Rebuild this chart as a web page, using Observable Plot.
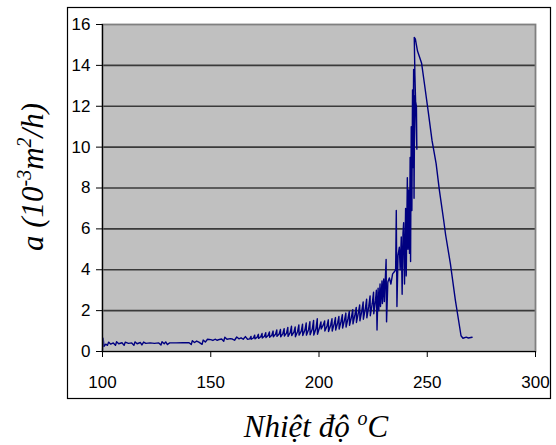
<!DOCTYPE html>
<html><head><meta charset="utf-8">
<script src="https://cdn.jsdelivr.net/npm/d3@7"></script>
<script src="https://cdn.jsdelivr.net/npm/@observablehq/plot@0.6"></script>
<style>body{margin:0;background:#fff}#chart{position:relative;width:556px;height:445px}</style>
</head><body><div id="chart"></div>
<script>
// Readings [temperature °C, a (10^-3 m^2/h)] in drawing order, split by phase
const lowRange = [
[100.0,0.00],[100.3,0.65],[100.7,0.25],[101.5,0.36],[102.3,0.30],[102.8,0.46],[103.8,0.36],[105.0,0.42],[106.0,0.30],[106.5,0.48],
[107.5,0.38],[109.0,0.43],[110.0,0.30],[110.5,0.46],[112.0,0.40],[113.5,0.42],[114.5,0.30],[115.0,0.47],[116.0,0.38],[117.5,0.44],
[118.2,0.32],[119.0,0.46],[120.0,0.40],[122.0,0.42],[124.0,0.40],[126.0,0.42],[127.0,0.32],[127.5,0.48],[128.5,0.38],[129.2,0.47],
[130.0,0.34],[131.0,0.42],[134.0,0.42],[137.0,0.43],[140.0,0.43],[141.0,0.34],[141.5,0.53],[142.5,0.44],[143.5,0.51],[144.5,0.46],
[146.0,0.35],[146.5,0.56],[147.5,0.46],[148.5,0.60],[150.0,0.58],[151.0,0.54],[152.0,0.60],[153.0,0.55],[154.0,0.59],[155.0,0.61],
[156.0,0.50],[156.5,0.70],[157.5,0.60],[159.0,0.63],[160.0,0.61],[161.0,0.55],[162.0,0.71],[163.0,0.62],[164.0,0.67],[165.0,0.60],
[166.0,0.73],[167.0,0.60]
];
const risingRange = [
[168.0,0.62],[168.6,0.74],[168.7,0.60],[169.7,0.66],[170.3,0.80],[170.4,0.62],[171.4,0.70],[172.0,0.84],[172.1,0.64],[173.1,0.72],
[173.7,0.88],[173.8,0.66],[174.8,0.75],[175.4,0.92],[175.5,0.68],[176.5,0.78],[177.1,0.96],[177.2,0.70],[178.2,0.80],[178.8,1.00],
[178.9,0.72],[179.9,0.84],[180.5,1.05],[180.6,0.74],[181.6,0.86],[182.2,1.08],[182.3,0.72],[183.3,0.88],[183.9,1.12],[184.0,0.76],
[185.0,0.90],[185.6,1.18],[185.7,0.74],[186.7,0.92],[187.3,1.24],[187.4,0.78],[188.4,0.95],[189.0,1.20],[189.1,0.72],[190.1,0.98],
[190.7,1.30],[190.8,0.80],[191.8,1.00],[192.4,1.34],[192.5,0.78],[193.5,1.05],[194.1,1.40],[194.2,0.80],[195.2,1.08],[195.8,1.46],
[195.9,0.82],[196.9,1.10],[197.5,1.52],[197.6,0.80],[198.6,1.12],[199.2,1.60],[199.3,0.84],[200.3,1.20],[200.9,1.45],[201.0,1.10],
[202.0,1.30],[202.6,1.50],[202.7,1.00],[203.7,1.25],[204.3,1.55],[204.4,0.98],[205.4,1.30],[206.0,1.60],[206.1,1.00],[207.0,1.35],
[207.6,1.66],[207.7,1.05],[208.6,1.40],[209.2,1.72],[209.3,1.10],[210.2,1.48],[210.8,1.80],[210.9,1.15],[211.8,1.55],[212.4,1.88],
[212.5,1.20],[213.4,1.62],[214.0,1.96],[214.1,1.28],[215.0,1.70],[215.6,2.05],[215.7,1.35],[216.6,1.80],[217.2,2.16],[217.3,1.42],
[218.2,1.90],[218.8,2.28],[218.9,1.50],[219.8,2.00],[220.4,2.42],[220.5,1.58],[221.4,2.10],[222.0,2.56],[222.1,1.65],[223.0,2.22],
[223.6,2.72],[223.7,1.75],[224.6,2.35],[225.2,2.90],[225.3,1.85],[226.1,2.50],[226.5,3.00],[226.8,1.05],[227.3,3.10],[227.6,2.00],
[228.2,3.30],[228.4,2.20],[229.1,3.45],[229.3,2.35],[229.9,3.55],[230.2,2.45],[231.0,4.50],[231.2,1.45],[231.8,3.40]
];
const peakRange = [
[232.5,3.60],[233.2,3.30],[234.0,3.80],[234.8,3.90],[235.4,4.00],[235.7,6.90],[236.0,2.20],[236.5,4.70],[237.1,5.10],[237.5,4.00],
[238.0,5.60],[238.4,2.80],[238.8,5.80],[239.1,6.30],[239.5,3.30],[240.0,7.00],[240.3,3.70],[240.8,8.50],[241.1,5.00],[241.4,7.90],
[241.8,4.80],[242.1,9.50],[242.3,4.40],[242.6,11.0],[242.9,6.90],[243.2,12.8],[243.4,9.00],[243.7,13.8],[243.9,7.50],[244.2,12.5],
[245.0,12.0],[245.2,9.90],[244.3,13.5],[244.0,15.37]
];
const coolingRange = [
[244.5,15.30],[245.5,14.70],[247.4,14.10],[248.7,13.10],[250.5,11.70],[252.2,10.33],[254.1,9.19],[255.6,7.90],[257.6,6.41],[258.5,5.70],
[260.7,4.29],[263.0,2.50],[265.6,0.77],[266.5,0.65],[268.0,0.70],[269.0,0.66],[270.7,0.70]
];
const xTicks = [100, 150, 200, 250, 300];
const yTicks = [0, 2, 4, 6, 8, 10, 12, 14, 16];
const gridValues = [2, 4, 6, 8, 10, 12, 14];

const data = [...lowRange, ...risingRange, ...peakRange, ...coolingRange].map(([t, a]) => ({t, a}));

const chart = Plot.plot({
  width: 556,
  height: 445,
  marginLeft: 102,
  marginRight: 21,
  marginTop: 24,
  marginBottom: 94,
  style: {fontFamily: "'Liberation Sans', Arial, sans-serif", fontSize: "17px", background: "#fff", color: "#000"},
  x: {domain: [100, 300]},
  y: {domain: [0, 16]},
  marks: [
    Plot.frame({fill: "#c0c0c0", stroke: null}),
    Plot.ruleY(gridValues, {stroke: "#3a3a3a", strokeWidth: 1.6}),
    Plot.line(data, {x: "t", y: "a", stroke: "#000080", strokeWidth: 1.4}),
    Plot.frame({stroke: "#808080", strokeWidth: 1.8}),
    Plot.ruleX([100], {stroke: "#000", strokeWidth: 1.2}),
    Plot.ruleY([0], {stroke: "#000", strokeWidth: 1.2}),
    Plot.axisX(xTicks, {tickSize: 6, tickPadding: 18, label: null, stroke: "#000"}),
    Plot.axisY(yTicks, {tickSize: 6, tickPadding: 6, label: null, stroke: "#000"})
  ]
});

document.getElementById("chart").appendChild(chart);
const svg = d3.select(chart);

// Outer chart border
svg.append("rect")
  .attr("x", 67.5).attr("y", 7.5).attr("width", 483).attr("height", 391)
  .attr("fill", "none").attr("stroke", "#000").attr("stroke-width", 1.2);

// Axis titles
const serif = "'Liberation Serif', 'Times New Roman', serif";
const yt = svg.append("text")
  .attr("transform", "translate(43,177) rotate(-90)")
  .attr("text-anchor", "middle")
  .attr("font-family", serif).attr("font-style", "italic").attr("font-size", 31).attr("fill", "#000");
yt.append("tspan").text("a (10");
yt.append("tspan").attr("dy", -12).attr("font-size", 20).text("-3");
yt.append("tspan").attr("dy", 12).text("m");
yt.append("tspan").attr("dy", -12).attr("font-size", 20).text("2");
yt.append("tspan").attr("dy", 12).text("/h)");

const xt = svg.append("text")
  .attr("x", 316).attr("y", 437)
  .attr("text-anchor", "middle")
  .attr("font-family", serif).attr("font-style", "italic").attr("font-size", 31).attr("fill", "#000");
xt.append("tspan").text("Nhiệt độ ");
xt.append("tspan").attr("dy", -12).attr("font-size", 20).text("o");
xt.append("tspan").attr("dy", 12).text("C");
</script>
</body></html>
